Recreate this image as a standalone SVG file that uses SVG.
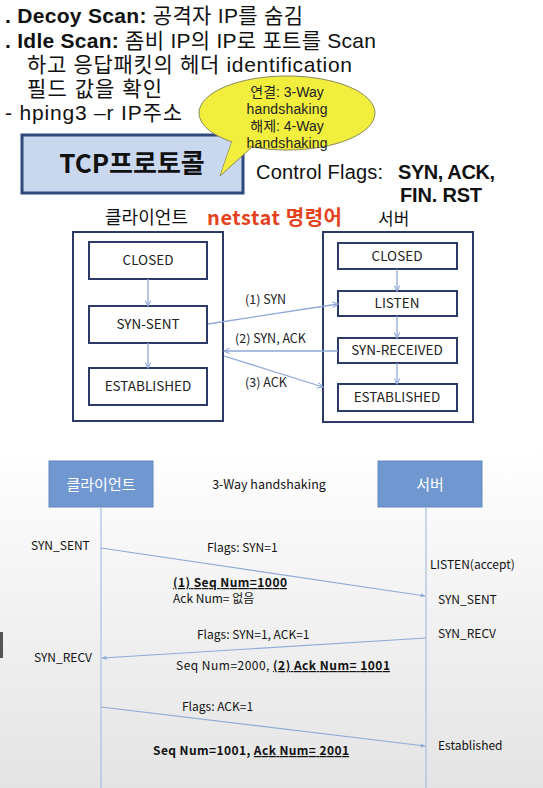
<svg xmlns="http://www.w3.org/2000/svg" width="543" height="788" viewBox="0 0 543 788">
<defs>
<style>
text{font-family:"Noto Sans CJK KR","Open Sans",sans-serif;fill:#111}
.big{font-family:"Liberation Sans","Noto Sans CJK KR",sans-serif;font-size:21px}
.lib{font-family:"Liberation Sans","Noto Sans CJK KR",sans-serif}
.b{font-weight:bold}
.st{fill:#fff;stroke:#2b3a66;stroke-width:2}
.stt{font-size:13.5px;text-anchor:middle;fill:#222}
.lbl{font-size:12.5px;fill:#222}
.sm{font-size:12px;fill:#111}
.bub{font-family:"Liberation Sans","Noto Sans CJK KR",sans-serif;font-size:14px;text-anchor:middle;fill:#222}
.conn{stroke:#8ea9d8;stroke-width:1.3;fill:none}
.seq{stroke:#90acd6;stroke-width:1.2;fill:none}
.life{stroke:#a8bfe0;stroke-width:1.2}
.u{text-decoration:underline}
</style>
<linearGradient id="bg" x1="0" y1="0" x2="0" y2="1">
<stop offset="0" stop-color="#ffffff"/>
<stop offset="1" stop-color="#e4e4e4"/>
</linearGradient>
<marker id="ah" viewBox="0 0 10 10" refX="9" refY="5" markerWidth="7" markerHeight="7" orient="auto" markerUnits="userSpaceOnUse">
<path d="M1,1 L9,5 L1,9" fill="none" stroke="#8ea9d8" stroke-width="1.5"/>
</marker>
<marker id="ah2" viewBox="0 0 10 10" refX="9" refY="5" markerWidth="5" markerHeight="5" orient="auto" markerUnits="userSpaceOnUse">
<path d="M0,1 L10,5 L0,9 Z" fill="#90acd6"/>
</marker>
</defs>
<rect width="543" height="788" fill="#fff"/>
<rect x="0" y="447" width="543" height="341" fill="url(#bg)"/>
<rect x="0" y="632" width="3" height="26" fill="#555"/>

<g id="notes">
<text class="big" x="5" y="23" textLength="298" lengthAdjust="spacing"><tspan class="b">. Decoy Scan:</tspan> 공격자 IP를 숨김</text>
<text class="big" x="5" y="48" textLength="371" lengthAdjust="spacing"><tspan class="b">. Idle Scan:</tspan> 좀비 IP의 IP로 포트를 Scan</text>
<text class="big" x="27" y="72" textLength="325" lengthAdjust="spacing">하고 응답패킷의 헤더 identification</text>
<text class="big" x="27" y="96" textLength="135" lengthAdjust="spacing">필드 값을 확인</text>
<text class="big" x="5" y="120" textLength="177" lengthAdjust="spacing">- hping3 –r IP주소</text>
</g>

<g id="tcp">
<rect x="22" y="135" width="221" height="58" fill="#c9d8ee" stroke="#2f4a7a" stroke-width="3"/>
<text x="132" y="173" font-size="26" font-weight="bold" text-anchor="middle">TCP프로토콜</text>
</g>

<g id="bubble">
<path d="M232,141 L220,176 L252,147" fill="#f2ee3e" stroke="#8a8a5a" stroke-width="1"/>
<ellipse cx="287" cy="113" rx="88" ry="37" fill="#f2ee3e" stroke="#8a8a5a" stroke-width="1"/>
<path d="M233,139 L221,174 L251,145" fill="#f2ee3e" stroke="none"/>
<text class="bub" x="287" y="97">연결: 3-Way</text>
<text class="bub" x="287" y="114" textLength="81" lengthAdjust="spacing">handshaking</text>
<text class="bub" x="287" y="131">해제: 4-Way</text>
<text class="bub" x="287" y="148" textLength="81" lengthAdjust="spacing">handshaking</text>
</g>

<g id="flags">
<text class="lib" x="256" y="179" font-size="20" textLength="127" lengthAdjust="spacing">Control Flags:</text>
<text class="lib" x="398" y="179" font-size="20" font-weight="bold" textLength="97" lengthAdjust="spacing">SYN, ACK,</text>
<text class="lib" x="400" y="202" font-size="20" font-weight="bold" textLength="82" lengthAdjust="spacing">FIN. RST</text>
</g>

<g id="titles">
<text x="105" y="224" font-size="18" textLength="83" lengthAdjust="spacing">클라이언트</text>
<text x="207" y="225" font-size="20" font-weight="bold" textLength="135" lengthAdjust="spacing" style="fill:#e4421c">netstat 명령어</text>
<text x="378" y="225" font-size="17">서버</text>
</g>

<g id="client">
<rect class="st" x="73" y="232" width="150" height="189"/>
</g>
<g id="c-closed"><rect class="st" x="89" y="242" width="118" height="37"/><text class="stt" x="148" y="265">CLOSED</text></g>
<g id="c-synsent"><rect class="st" x="89" y="306" width="118" height="37"/><text class="stt" x="148" y="329">SYN-SENT</text></g>
<g id="c-est"><rect class="st" x="89" y="368" width="118" height="37"/><text class="stt" x="148" y="391">ESTABLISHED</text></g>

<g id="server">
<rect class="st" x="323" y="232" width="150" height="190"/>
</g>
<g id="s-closed"><rect class="st" x="338" y="243" width="119" height="26"/><text class="stt" x="397" y="261">CLOSED</text></g>
<g id="s-listen"><rect class="st" x="338" y="291" width="119" height="25"/><text class="stt" x="397" y="308">LISTEN</text></g>
<g id="s-synrcv"><rect class="st" x="338" y="338" width="119" height="25"/><text class="stt" x="397" y="355">SYN-RECEIVED</text></g>
<g id="s-est"><rect class="st" x="338" y="384" width="119" height="27"/><text class="stt" x="397" y="402">ESTABLISHED</text></g>

<g id="seq-client"><rect x="49" y="461" width="104" height="46" fill="#7197d0" stroke="#6488c0"/><text x="101" y="490" font-size="15" text-anchor="middle" style="fill:#fff">클라이언트</text></g>
<g id="seq-server"><rect x="378" y="461" width="104" height="46" fill="#7197d0" stroke="#6488c0"/><text x="430" y="490" font-size="15" text-anchor="middle" style="fill:#fff">서버</text></g>

<g id="connectors">
<line class="conn" x1="148" y1="279" x2="148" y2="306" marker-end="url(#ah)"/>
<line class="conn" x1="148" y1="343" x2="148" y2="368" marker-end="url(#ah)"/>
<line class="conn" x1="397" y1="269" x2="397" y2="291" marker-end="url(#ah)"/>
<line class="conn" x1="397" y1="316" x2="397" y2="338" marker-end="url(#ah)"/>
<line class="conn" x1="397" y1="363" x2="397" y2="384" marker-end="url(#ah)"/>
<line class="conn" x1="208" y1="324" x2="338" y2="304" marker-end="url(#ah)"/>
<line class="conn" x1="338" y1="351" x2="224" y2="351" marker-end="url(#ah)"/>
<line class="conn" x1="224" y1="356" x2="323" y2="387" marker-end="url(#ah)"/>
<line class="life" x1="101" y1="507" x2="101" y2="788"/>
<line class="life" x1="426" y1="507" x2="426" y2="788"/>
<line class="seq" x1="101" y1="548" x2="425" y2="596" marker-end="url(#ah2)"/>
<line class="seq" x1="426" y1="638" x2="102" y2="658" marker-end="url(#ah2)"/>
<line class="seq" x1="101" y1="707" x2="425" y2="746" marker-end="url(#ah2)"/>
</g>

<g id="labels">
<text class="lbl" x="245" y="304">(1) SYN</text>
<text class="lbl" x="235" y="343">(2) SYN, ACK</text>
<text class="lbl" x="245" y="387">(3) ACK</text>
<text x="269" y="489" font-size="12.5" text-anchor="middle">3-Way handshaking</text>
<text class="sm" x="31" y="550">SYN_SENT</text>
<text class="sm" x="207" y="552">Flags: SYN=1</text>
<text class="sm" x="430" y="569">LISTEN(accept)</text>
<text class="sm b u" x="173" y="587" textLength="114" lengthAdjust="spacing">(1) Seq Num=1000</text>
<text class="sm" x="173" y="603">Ack Num= 없음</text>
<text class="sm" x="438" y="604">SYN_SENT</text>
<text class="sm" x="197" y="639">Flags: SYN=1, ACK=1</text>
<text class="sm" x="438" y="638">SYN_RECV</text>
<text class="sm" x="34" y="662">SYN_RECV</text>
<text class="sm" x="176" y="670" textLength="214" lengthAdjust="spacing">Seq Num=2000, <tspan class="b u">(2) Ack Num= 1001</tspan></text>
<text class="sm" x="182" y="711">Flags: ACK=1</text>
<text class="sm" x="438" y="750">Established</text>
<text class="sm b" x="153" y="755" textLength="196" lengthAdjust="spacing">Seq Num=1001, <tspan class="u">Ack Num= 2001</tspan></text>
</g>
</svg>
